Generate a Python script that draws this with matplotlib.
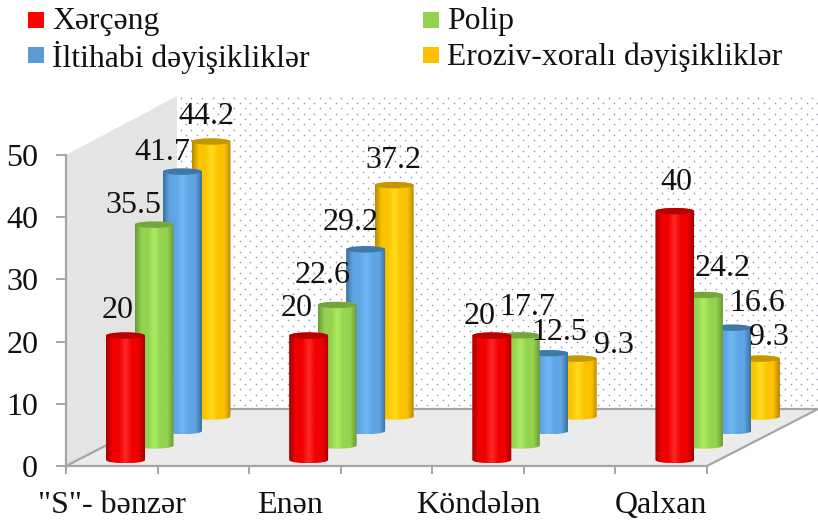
import numpy as np
import matplotlib
matplotlib.use('Agg')
import matplotlib.pyplot as plt
from matplotlib.colors import LinearSegmentedColormap
from matplotlib.patches import Polygon, Rectangle

plt.rcParams['font.family'] = ['Liberation Serif', 'DejaVu Serif']

# Data
categories = ['"S"- bənzər', 'Enən', 'Köndələn', 'Qalxan']
series_names = ['Xərçəng', 'Polip', 'İltihabi dəyişikliklər', 'Eroziv-xoralı dəyişikliklər']
xercheng = [20, 20, 20, 40]
polip = [35.5, 22.6, 17.7, 24.2]
iltihabi = [41.7, 29.2, 12.5, 16.6]
eroziv = [44.2, 37.2, 9.3, 9.3]
series_values = [xercheng, polip, iltihabi, eroziv]
yticks = [0, 10, 20, 30, 40, 50]

# Styles: edge, centre, cap colours of each cylinder
legend_colors = ['#ff0000', '#92d050', '#5b9bd5', '#ffc000']
edge_colors = ['#a80000', '#6d9a35', '#3a729f', '#b98a00']
mid_colors = ['#f00000', '#94d350', '#5fa5e4', '#fcc400']
light_colors = ['#ff2a2a', '#aeee64', '#70b8f6', '#ffde1e']
cap_colors = ['#b80000', '#76a53c', '#3f79a8', '#c49600']

# label offsets from the top of each cylinder, in pixels
label_dx = [[-8, -21, -20, -5], [-12, -15, -15, -1], [-12, 7, 10, 37], [1, 19, 25, 9]]
label_dy = [[25, 19, 19, 25], [27, 29, 27, 25], [19, 28, 21, 13], [29, 26, 24, 21]]

W, H = 818, 521
x0, x1 = 66, 707
y0, y50 = 466, 155
fig = plt.figure(figsize=(W / 100, H / 100), dpi=100)
ax = fig.add_axes([x0 / W, 1 - y0 / H, (x1 - x0) / W, (y0 - y50) / H])
ax.patch.set_visible(False)
for s in ax.spines.values():
    s.set_visible(False)
xlim = (0, 3.5)
ylim = (0, 50)

ppx = (x1 - x0) / 3.5      # pixels per category
ppy = (y0 - y50) / 50      # pixels per value unit

# 3D depth of the box, in data units
depth_x = 111 / ppx
depth_y = 57 / ppy
top = 50 + 0.3
right_end = (W - x0) / ppx

# walls and floor
ax.add_patch(Polygon([(0, 0), (depth_x, depth_y), (depth_x, top + depth_y), (0, 50)],
                     fc='#e4e4e4', ec='none', clip_on=False, zorder=1))
ax.add_patch(Polygon([(0, 0), (3.5, 0), (right_end, depth_y), (depth_x, depth_y)],
                     fc='#ebebeb', ec='none', clip_on=False, zorder=1))

# dotted back wall
dx_dot = 10.7 / ppx
dy_dot = 5.3 / ppy
xs, ys, = [], []
for k, yy in enumerate(np.arange(depth_y + 0.6, top + depth_y, dy_dot)):
    row = np.arange(depth_x + 0.02 + (dx_dot / 2 if k % 2 else 0), right_end, dx_dot)
    xs.extend(row)
    ys.extend([yy] * len(row))
ax.scatter(xs, ys, s=1.5, color='#98a0b0', linewidths=0, clip_on=False, zorder=1)

# box lines
line = dict(color='#a6a6a6', lw=1.6, clip_on=False, zorder=2)
ax.plot([0, 0], [0, 50], **line)
ax.plot([0, 3.5], [0, 0], **line)
ax.plot([0, depth_x], [0, depth_y], **line)
ax.plot([depth_x, right_end], [depth_y, depth_y], **line)
ax.plot([3.5, right_end], [0, depth_y], **line)

# cylinders
bar_w = 39 / ppx
first_x = 59.5 / ppx
step_x = 28.5 / ppx
first_y = 6 / ppy
step_y = 14.5 / ppy
cap_h = 3.2 / ppy

t = np.linspace(0, np.pi, 40)
for i in range(len(categories)):
    for s in [3, 2, 1, 0]:
        v = series_values[s][i]
        cx = i + first_x + s * step_x
        by = first_y + s * step_y
        ty = by + v
        ex = bar_w / 2 * np.cos(t)
        ey = cap_h * np.sin(t)
        outline = np.vstack([
            np.column_stack([cx - ex, by - ey]),
            np.column_stack([cx + ex, ty + ey]),
        ])
        cmap = LinearSegmentedColormap.from_list('cyl', [edge_colors[s], mid_colors[s], mid_colors[s], light_colors[s],
                                                         mid_colors[s], mid_colors[s], edge_colors[s]])
        z = 10 + i * 10 + (3 - s)
        im = ax.imshow(np.linspace(0, 1, 64).reshape(1, -1), cmap=cmap, aspect='auto',
                       extent=[cx - bar_w / 2, cx + bar_w / 2, by - cap_h, ty + cap_h], zorder=z)
        poly = Polygon(outline, transform=ax.transData, fc='none', ec='none')
        im.set_clip_path(poly)
        im.set_clip_box(fig.bbox)
        cap = np.column_stack([cx + bar_w / 2 * np.cos(2 * t), ty + cap_h * np.sin(2 * t)])
        ax.add_patch(Polygon(cap, fc=cap_colors[s], ec='none', clip_on=False, zorder=z + 0.5))
        ax.annotate(str(v), (cx, ty), xytext=(label_dx[i][s], label_dy[i][s]),
                    textcoords='offset pixels', ha='center', va='center', fontsize=23,
                    color='#111111', annotation_clip=False, zorder=100)

ax.set_xlim(*xlim)
ax.set_ylim(*ylim)

# axes ticks
ax.set_yticks(yticks)
ax.set_xticks(np.arange(0, 3.51, 0.5))
ax.set_xticklabels([])
ax.set_xticks([0.25, 1.224, 2.25, 3.251], labels=categories, minor=True)
ax.tick_params(axis='y', length=7, width=1.4, color='#a6a6a6', labelsize=23, pad=13, labelcolor='#111111')
ax.tick_params(axis='x', which='major', length=6, width=1.4, color='#a6a6a6')
ax.tick_params(axis='x', which='minor', length=0, labelsize=23, pad=18, labelcolor='#111111')

# legend
squares = [(28, 12), (423, 12), (28, 47), (423, 47)]
for (sx, sy), name, col in zip(squares, series_names, legend_colors):
    fig.patches.append(Rectangle((sx / W, 1 - (sy + 16) / H), 16 / W, 16 / H, fc=col, ec='none',
                                 transform=fig.transFigure))
    fig.text((sx + 24) / W, 1 - (sy + 10) / H, name, fontsize=22.8, color='#111111', ha='left', va='center')

fig.savefig('out.png', dpi=100)
